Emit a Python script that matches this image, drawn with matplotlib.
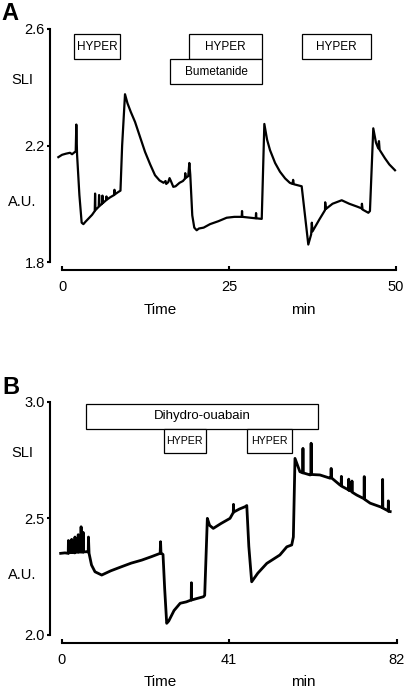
import matplotlib.pyplot as plt
from matplotlib.patches import Rectangle

plt.rcParams['font.family'] = ['Liberation Sans', 'DejaVu Sans']

# ---- panel A data (time in min, SLI in A.U.) ----
time_a = [-0.55, 0.0, 0.6, 1.2, 1.5, 2.05, 2.14, 2.25, 2.6, 2.94,
          3.2, 3.5, 4.0, 4.5, 4.9, 4.95, 5.0, 5.5, 5.55, 5.6,
          6.0, 6.05, 6.1, 6.6, 6.65, 6.7, 7.2, 7.8, 7.85, 7.9,
          8.4, 8.75, 9.0, 9.43, 9.8, 10.3, 10.93, 11.7, 12.43, 13.2,
          13.92, 14.6, 15.2, 15.5, 15.6, 15.9, 16.1, 16.3, 16.66, 17.0,
          17.6, 18.1, 18.4, 18.45, 18.5, 18.9, 19.06, 19.2, 19.5, 19.8,
          20.16, 20.5, 21.2, 22.16, 23.4, 24.65, 25.8, 26.9, 26.95, 27.0,
          28.2, 29.0, 29.05, 29.1, 29.9, 30.29, 30.7, 31.14, 31.9, 32.63,
          33.4, 34.1, 34.5, 34.6, 34.7, 35.88, 36.87, 37.3, 37.4, 37.5,
          38.5, 39.37, 39.4, 39.5, 40.5, 41.87, 43.0, 44.2, 44.87, 44.9,
          45.0, 45.86, 46.1, 46.6, 47.0, 47.35, 47.45, 47.55, 48.35, 49.0,
          49.85]
sli_a = [2.160, 2.168, 2.172, 2.175, 2.170, 2.180, 2.272, 2.170, 2.030, 1.935,
         1.930, 1.938, 1.950, 1.962, 1.975, 2.035, 1.978, 1.990, 2.030, 1.992,
         2.000, 2.028, 2.002, 2.012, 2.025, 2.014, 2.022, 2.030, 2.048, 2.032,
         2.040, 2.045, 2.200, 2.376, 2.345, 2.315, 2.281, 2.228, 2.178, 2.135,
         2.098, 2.080, 2.072, 2.078, 2.068, 2.074, 2.088, 2.078, 2.058, 2.060,
         2.072, 2.078, 2.086, 2.105, 2.088, 2.095, 2.140, 2.100, 1.960, 1.918,
         1.909, 1.915, 1.918, 1.930, 1.940, 1.952, 1.955, 1.955, 1.975, 1.955,
         1.952, 1.950, 1.968, 1.950, 1.948, 2.274, 2.220, 2.184, 2.140, 2.110,
         2.087, 2.072, 2.068, 2.082, 2.067, 2.060, 1.860, 1.895, 1.935, 1.905,
         1.945, 1.978, 2.005, 1.982, 2.000, 2.012, 2.000, 1.990, 1.984, 2.000,
         1.980, 1.969, 1.975, 2.259, 2.210, 2.190, 2.215, 2.185, 2.156, 2.135,
         2.115]
hyper_a = [(1.85, 8.75), (19.0, 30.0), (35.9, 46.3)]
bumetanide_a = (16.2, 30.0)
xticks_a = [0, 25, 50]
yticks_a = [1.8, 2.2, 2.6]

# ---- panel B data ----
time_b = [-0.25, 0.8, 1.6, 1.65, 1.7, 2.4, 2.45, 2.5, 3.2, 3.25,
          3.3, 4.0, 4.05, 4.1, 4.7, 4.75, 4.8, 5.2, 5.25, 5.3,
          6.1, 6.5, 6.55, 6.7, 7.3, 8.15, 9.8, 12.0, 14.7, 17.0,
          19.6, 22.0, 24.1, 24.2, 24.3, 24.8, 25.2, 25.7, 26.2, 27.5,
          29.0, 30.5, 31.7, 31.75, 31.8, 33.0, 34.7, 35.0, 35.65, 36.2,
          37.1, 39.0, 41.2, 42.0, 42.05, 42.1, 43.5, 44.9, 45.3, 45.8,
          46.5, 48.0, 50.2, 53.4, 55.1, 56.3, 56.7, 57.1, 58.3, 59.0,
          59.05, 59.1, 60.8, 61.0, 61.05, 61.1, 63.2, 65.7, 65.9, 65.95,
          66.0, 68.1, 68.4, 68.45, 68.5, 70.2, 70.25, 70.3, 71.0, 71.05,
          71.1, 72.2, 74.0, 74.05, 74.1, 75.5, 77.9, 78.5, 78.55, 78.6,
          79.9, 79.95, 80.0, 80.4]
sli_b = [2.350, 2.352, 2.350, 2.405, 2.352, 2.354, 2.410, 2.355, 2.352, 2.420,
         2.354, 2.356, 2.430, 2.355, 2.356, 2.464, 2.356, 2.355, 2.440, 2.356,
         2.357, 2.356, 2.420, 2.350, 2.300, 2.271, 2.257, 2.275, 2.293, 2.308,
         2.321, 2.336, 2.350, 2.400, 2.352, 2.345, 2.200, 2.050, 2.060, 2.105,
         2.136, 2.142, 2.150, 2.224, 2.150, 2.156, 2.164, 2.170, 2.500, 2.470,
         2.457, 2.478, 2.500, 2.525, 2.560, 2.527, 2.540, 2.550, 2.555, 2.380,
         2.228, 2.265, 2.307, 2.343, 2.378, 2.386, 2.420, 2.757, 2.700, 2.695,
         2.800, 2.695, 2.686, 2.690, 2.822, 2.688, 2.686, 2.672, 2.676, 2.714,
         2.674, 2.643, 2.640, 2.680, 2.638, 2.622, 2.668, 2.620, 2.616, 2.660,
         2.612, 2.600, 2.584, 2.679, 2.582, 2.565, 2.550, 2.546, 2.667, 2.544,
         2.532, 2.575, 2.530, 2.529]
hyper_b = [(25.0, 35.2), (45.3, 56.4)]
ouabain_b = (5.9, 62.8)
xticks_b = [0, 41, 82]
yticks_b = [2.0, 2.5, 3.0]

W, H = 406, 688
fig = plt.figure(figsize=(W / 100, H / 100), dpi=100)


def add_px_axes(x0, x1, ytop, ybot):
    return fig.add_axes([x0 / W, 1 - ybot / H, (x1 - x0) / W, (ybot - ytop) / H])


def style(ax, xticks, yticks):
    ax.patch.set_visible(False)
    for s in ['top', 'right']:
        ax.spines[s].set_visible(False)
    ax.spines['left'].set_linewidth(1.5)
    ax.spines['bottom'].set_linewidth(1.5)
    ax.spines['bottom'].set_position(('outward', 6))
    ax.spines['bottom'].set_bounds(xticks[0], xticks[-1])
    ax.set_xticks(xticks)
    ax.set_xticklabels([str(x) for x in xticks])
    ax.set_yticks(yticks)
    ax.set_yticklabels(['{:.1f}'.format(y) for y in yticks])
    ax.tick_params(axis='x', direction='in', length=3.2, width=1.5, pad=7, labelsize=10.5)
    ax.tick_params(axis='y', direction='out', length=2.4, width=1.5, pad=1.2, labelsize=10.5)


def box(ax, t0, t1, y0, y1, label, size):
    ax.add_patch(Rectangle((t0, y0), t1 - t0, y1 - y0, facecolor='white',
                           edgecolor='black', linewidth=0.9, clip_on=False, zorder=3))
    ax.text((t0 + t1) / 2, (y0 + y1) / 2, label, ha='center', va='center',
            fontsize=size, zorder=4)


def ftext(x, y, s, size=10.5, **kw):
    fig.text(x / W, 1 - y / H, s, ha='center', va='center', fontsize=size, **kw)


# Panel A
axA = add_px_axes(50, 400, 29, 262)
axA.plot(time_a, sli_a, color='black', linewidth=1.6)
axA.set_xlim(-1.8, 50.6)
axA.set_ylim(1.8, 2.6)
style(axA, xticks_a, yticks_a)
for t0, t1 in hyper_a:
    box(axA, t0, t1, 2.496, 2.582, 'HYPER', 8.5)
box(axA, bumetanide_a[0], bumetanide_a[1], 2.412, 2.496, 'Bumetanide', 8.5)

# Panel B (noisy trace drawn thicker)
axB = add_px_axes(50, 400, 401.7, 635)
axB.plot(time_b, sli_b, color='black', linewidth=2.0)
axB.set_xlim(-2.86, 82.8)
axB.set_ylim(2.0, 3.0)
style(axB, xticks_b, yticks_b)
box(axB, ouabain_b[0], ouabain_b[1], 2.884, 2.990, 'Dihydro-ouabain', 9.5)
for t0, t1 in hyper_b:
    box(axB, t0, t1, 2.780, 2.884, 'HYPER', 7.7)

# labels
ftext(10, 14, 'A', size=17, weight='bold')
ftext(22, 80, 'SLI')
ftext(22, 202, 'A.U.')
ftext(160, 310, 'Time', size=11)
ftext(303, 310, 'min', size=11)

ftext(11, 387, 'B', size=17, weight='bold')
ftext(22, 453, 'SLI')
ftext(22, 575, 'A.U.')
ftext(160, 682, 'Time', size=11)
ftext(303, 682, 'min', size=11)

fig.savefig('out.png', dpi=100)
